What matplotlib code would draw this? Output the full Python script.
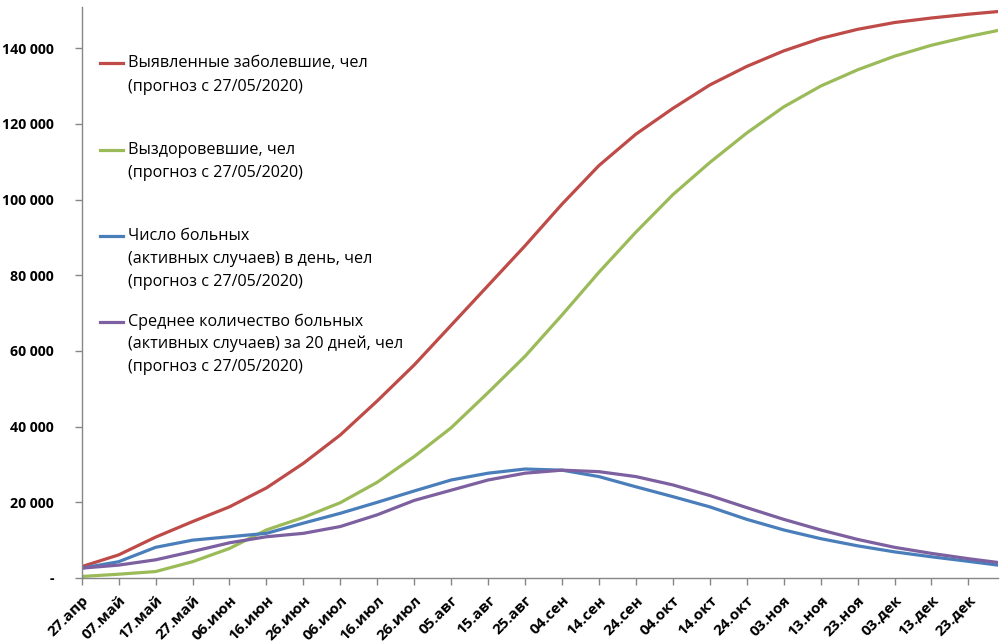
import datetime as dt
import matplotlib
matplotlib.use("Agg")
import matplotlib.pyplot as plt
from matplotlib.ticker import FuncFormatter

# data (every 10 days from 27 Apr, last point 31 Dec)
start = dt.date(2020, 4, 27)
dates = [start + dt.timedelta(days=10 * i) for i in range(25)] + [dt.date(2020, 12, 31)]

detected = [3000, 6100, 10800, 14900, 18800, 23800, 30300, 37800, 46800, 56300,
            66800, 77300, 87800, 98800, 109000, 117300, 124100, 130300, 135200,
            139300, 142600, 145000, 146800, 148000, 149000, 149700]
recovered = [400, 1000, 1700, 4300, 7800, 12700, 16000, 19900, 25300, 32100,
             39700, 49000, 58600, 69500, 80800, 91400, 101300, 109800, 117600,
             124500, 130000, 134300, 137900, 140800, 143100, 144700]
active = [2600, 4300, 8100, 10000, 10900, 11800, 14500, 17100, 20000, 23000,
          25900, 27700, 28800, 28500, 26800, 24100, 21500, 18800, 15500,
          12700, 10400, 8500, 6900, 5600, 4400, 3400]
active_avg = [2600, 3400, 4800, 7000, 9300, 10900, 11800, 13600, 16700, 20500,
              23200, 25900, 27700, 28500, 28100, 26800, 24600, 21800, 18600,
              15500, 12700, 10200, 8100, 6500, 5100, 4100]

labels = [
    ["Выявленные заболевшие, чел", "(прогноз с 27/05/2020)"],
    ["Выздоровевшие, чел", "(прогноз с 27/05/2020)"],
    ["Число больных", "(активных случаев) в день, чел", "(прогноз с 27/05/2020)"],
    ["Среднее количество больных", "(активных случаев) за 20 дней, чел",
     "(прогноз с 27/05/2020)"],
]
colors = ["#BE4B48", "#9BBB59", "#4A7EBB", "#7D60A0"]
months_ru = {1: "янв", 2: "фев", 3: "мар", 4: "апр", 5: "май", 6: "июн",
             7: "июл", 8: "авг", 9: "сен", 10: "окт", 11: "ноя", 12: "дек"}

plt.rcParams['font.family'] = ['Open Sans', 'DejaVu Sans']

fig = plt.figure(figsize=(10.02, 6.43), dpi=100)
ax = fig.add_axes([0.0815, 0.1011, 0.9145, 0.888])

for series, c in zip([detected, recovered, active, active_avg], colors):
    ax.plot(dates, series, color=c, lw=2.3, solid_capstyle='round')

ax.set_xlim(dates[0], dates[-1])
ax.set_ylim(0, 150900)

# axes look like an old Excel chart
for side in ['top', 'right']:
    ax.spines[side].set_visible(False)
for side in ['left', 'bottom']:
    ax.spines[side].set_color('#868686')
    ax.spines[side].set_linewidth(1.0)
ax.tick_params(axis='both', direction='out', length=5, color='#868686', width=1.0)

ax.set_yticks(range(0, 150000, 20000))
ax.yaxis.set_major_formatter(FuncFormatter(
    lambda v, p: '-' if v == 0 else f"{int(v):,}".replace(',', ' ')))
for t in ax.get_yticklabels():
    t.set_fontweight('bold')
    t.set_fontsize(10.2)
ax.tick_params(axis='y', pad=15)

xticks = dates[:25]
ax.set_xticks(xticks)
ax.set_xticklabels([f"{d.day:02d}.{months_ru[d.month]}" for d in xticks],
                   rotation=45, ha='right', rotation_mode='anchor',
                   fontweight='bold', fontsize=11)
ax.tick_params(axis='x', pad=6)


# legend drawn by hand, handle aligned with the first text line
def to_ax(xp, yp):
    return (xp - 81.7) / 916.3, (578 - yp) / 571


rows = [[63, 87], [150, 173], [236, 259, 282], [322, 344, 367]]
for lines, ys, c in zip(labels, rows, colors):
    x0, y0 = to_ax(100, ys[0])
    x1, _ = to_ax(123, ys[0])
    ax.plot([x0, x1], [y0, y0], color=c, lw=2.3, transform=ax.transAxes)
    for txt, yp in zip(lines, ys):
        xt, yt = to_ax(128, yp)
        ax.text(xt, yt, txt, transform=ax.transAxes, fontsize=11.6,
                va='center', ha='left', color='black')

fig.savefig("out.png", dpi=100)
